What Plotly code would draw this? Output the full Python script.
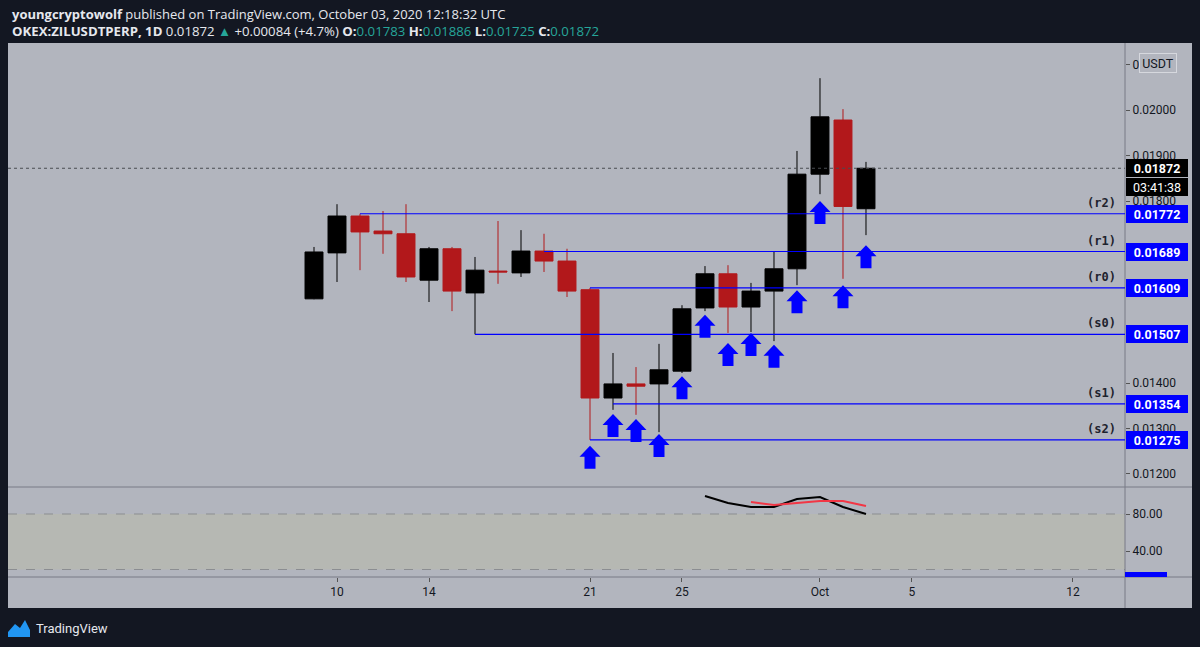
import plotly.graph_objects as go

# ---- data ----
dates = ["2020-09-09", "2020-09-10", "2020-09-11", "2020-09-12", "2020-09-13",
         "2020-09-14", "2020-09-15", "2020-09-16", "2020-09-17", "2020-09-18",
         "2020-09-19", "2020-09-20", "2020-09-21", "2020-09-22", "2020-09-23",
         "2020-09-24", "2020-09-25", "2020-09-26", "2020-09-27", "2020-09-28",
         "2020-09-29", "2020-09-30", "2020-10-01", "2020-10-02", "2020-10-03"]
opens = [0.01585, 0.01686, 0.01767, 0.01734, 0.01728, 0.01626, 0.01695, 0.01598, 0.01646,
         0.01642, 0.01690, 0.01668, 0.01605, 0.01367, 0.01398, 0.01398, 0.01426, 0.01565,
         0.01640, 0.01567, 0.01602, 0.01651, 0.01859, 0.01978, 0.01783]
highs = [0.01699, 0.01793, 0.01772, 0.01778, 0.01793, 0.01699, 0.01699, 0.01677, 0.01756,
         0.01736, 0.01728, 0.01695, 0.01609, 0.01466, 0.01435, 0.01486, 0.01571, 0.01657,
         0.01659, 0.01620, 0.01690, 0.01910, 0.02070, 0.02002, 0.01886]
lows = [0.01584, 0.01622, 0.01648, 0.01684, 0.01622, 0.01578, 0.01558, 0.01507, 0.01618,
        0.01633, 0.01644, 0.01589, 0.01275, 0.01341, 0.01330, 0.01292, 0.01422, 0.01558,
        0.01510, 0.01512, 0.01492, 0.01615, 0.01815, 0.01629, 0.01725]
closes = [0.01688, 0.01767, 0.01732, 0.01728, 0.01633, 0.01695, 0.01602, 0.01648, 0.01644,
          0.01690, 0.01668, 0.01602, 0.01367, 0.01398, 0.01393, 0.01429, 0.01563, 0.01640,
          0.01567, 0.01602, 0.01651, 0.01859, 0.01985, 0.01788, 0.01872]

last_price = 0.01872
countdown = "03:41:38"

level_names = ["r2", "r1", "r0", "s0", "s1", "s2"]
level_prices = [0.01772, 0.01689, 0.01609, 0.01507, 0.01354, 0.01275]
level_starts = ["2020-09-11", "2020-09-19", "2020-09-21", "2020-09-16", "2020-09-22", "2020-09-21"]

arrow_dates = ["2020-09-21", "2020-09-22", "2020-09-23", "2020-09-24", "2020-09-25",
               "2020-09-26", "2020-09-27", "2020-09-28", "2020-09-29", "2020-09-30",
               "2020-10-01", "2020-10-02", "2020-10-03"]
arrow_prices = [0.01262, 0.01332, 0.01321, 0.01288, 0.01415, 0.01550, 0.01488, 0.01510,
                0.01484, 0.01604, 0.01800, 0.01615, 0.01703]

k_dates = ["2020-09-26", "2020-09-27", "2020-09-28", "2020-09-29", "2020-09-30",
           "2020-10-01", "2020-10-02", "2020-10-03"]
k_values = [99.5, 91.9, 87.6, 87.6, 96.2, 98.4, 87.6, 80.0]
d_dates = ["2020-09-28", "2020-09-29", "2020-09-30", "2020-10-01", "2020-10-02", "2020-10-03"]
d_values = [93.0, 89.7, 91.9, 94.1, 94.1, 88.6]

tick_dates = ["2020-09-10", "2020-09-14", "2020-09-21", "2020-09-25", "2020-10-01",
              "2020-10-05", "2020-10-12"]
tick_text = ["10", "14", "21", "25", "Oct", "5", "12"]
price_ticks = [0.012, 0.013, 0.014, 0.018, 0.019, 0.020, 0.021]
osc_ticks = [40, 80]

# ---- look ----
W, H = 1200, 647
DARK = "#131722"
PANEL = "#b2b5be"
BLUE = "#0000ff"
SEP = "#787b86"
FONT = "Roboto"
X_RANGE = ["2020-08-26 16:42", "2020-10-14 06:16"]


def py(px):  # pixel row -> paper y
    return 1 - px / H


fig = go.Figure()

fig.add_trace(go.Candlestick(
    x=dates, open=opens, high=highs, low=lows, close=closes,
    increasing=dict(line=dict(color="#000000", width=1), fillcolor="#000000"),
    decreasing=dict(line=dict(color="#b2181b", width=1), fillcolor="#b2181b"),
    whiskerwidth=0, hoverinfo="skip", showlegend=False, xaxis="x", yaxis="y"))

fig.add_trace(go.Scatter(x=k_dates, y=k_values, mode="lines", xaxis="x", yaxis="y2",
                         line=dict(color="#000000", width=2), showlegend=False,
                         hoverinfo="skip"))
fig.add_trace(go.Scatter(x=d_dates, y=d_values, mode="lines", xaxis="x", yaxis="y2",
                         line=dict(color="#f23645", width=2), showlegend=False,
                         hoverinfo="skip"))

shapes = []
annotations = []

# panel background
shapes.append(dict(type="rect", xref="paper", yref="paper", x0=8 / W, x1=1192 / W,
                   y0=py(608), y1=py(43), fillcolor=PANEL, line=dict(width=0), layer="below"))
# oscillator band
shapes.append(dict(type="rect", xref="x domain", yref="y2", x0=0, x1=1, y0=20, y1=80,
                   fillcolor="#b6b8b3", line=dict(width=0), layer="below"))
for v in (20, 80):
    shapes.append(dict(type="line", xref="x domain", yref="y2", x0=0, x1=1, y0=v, y1=v,
                       line=dict(color="#8b8d91", width=1, dash="dash"), layer="below"))

# pane separators and axis border
for row in (487, 577):
    shapes.append(dict(type="line", xref="paper", yref="paper", x0=8 / W, x1=1192 / W,
                       y0=py(row), y1=py(row), line=dict(color=SEP, width=1)))
shapes.append(dict(type="line", xref="paper", yref="paper", x0=1125 / W, x1=1125 / W,
                   y0=py(608), y1=py(43), line=dict(color=SEP, width=1)))

# last price dotted line
shapes.append(dict(type="line", xref="x domain", yref="y", x0=0, x1=1, y0=last_price,
                   y1=last_price, line=dict(color="#4a4c52", width=1, dash="dot")))

# support / resistance lines
for name, p, start in zip(level_names, level_prices, level_starts):
    shapes.append(dict(type="line", xref="x", yref="y", x0=start, x1=X_RANGE[1], y0=p, y1=p,
                       line=dict(color=BLUE, width=1.2)))
    annotations.append(dict(xref="paper", yref="y", x=1118 / W, y=p, xanchor="right",
                            yanchor="bottom", yshift=2, showarrow=False,
                            text="<b>(%s)</b>" % name,
                            font=dict(family="DejaVu Sans Mono", size=12, color="#1e222d")))
    annotations.append(dict(xref="paper", yref="y", x=1126 / W, y=p, xanchor="left",
                            yanchor="middle", showarrow=False, text="<b>%.5f</b>" % p,
                            bgcolor=BLUE, borderwidth=0, borderpad=0, width=62, height=18,
                            font=dict(family=FONT, size=12.5, color="white")))

# blue arrows under the candles
arrow_path = "M0,0 L10.5,-11 L5.5,-11 L5.5,-23 L-5.5,-23 L-5.5,-11 L-10.5,-11 Z"
for d, p in zip(arrow_dates, arrow_prices):
    shapes.append(dict(type="path", xref="x", yref="y", xsizemode="pixel", ysizemode="pixel",
                       xanchor=d, yanchor=p, path=arrow_path, fillcolor=BLUE,
                       line=dict(width=0)))

# last price and countdown labels
annotations.append(dict(xref="paper", yref="y", x=1126 / W, y=last_price, xanchor="left",
                        yanchor="middle", showarrow=False, text="<b>%.5f</b>" % last_price,
                        bgcolor="#000000", borderwidth=0, borderpad=0, width=62, height=18,
                        font=dict(family=FONT, size=12.5, color="white")))
annotations.append(dict(xref="paper", yref="y", x=1126 / W, y=last_price, xanchor="left",
                        yanchor="middle", yshift=-19, showarrow=False, text=countdown,
                        bgcolor="#000000", borderwidth=0, borderpad=0, width=62, height=18,
                        font=dict(family=FONT, size=12.5, color="white")))

# currency badge
annotations.append(dict(xref="paper", yref="paper", x=1158 / W, y=py(63), xanchor="center",
                        yanchor="middle", showarrow=False,
                        text="USDT", bgcolor=PANEL, bordercolor="#d6d8de", borderwidth=1,
                        borderpad=0, width=36, height=18,
                        font=dict(family=FONT, size=12.5, color="#131722")))

# clipped oscillator value label
shapes.append(dict(type="rect", xref="paper", yref="paper", x0=1125 / W, x1=1167 / W,
                   y0=py(577), y1=py(572), fillcolor=BLUE, line=dict(width=0)))

# header
TEAL = "#26a69a"
annotations.append(dict(xref="paper", yref="paper", x=10 / W, y=py(14), xanchor="left",
                        yanchor="middle", showarrow=False,
                        text="<b>youngcryptowolf</b> published on TradingView.com, "
                             "October 03, 2020 12:18:32 UTC",
                        font=dict(family="Open Sans", size=13, color="#e6e8ee")))
annotations.append(dict(xref="paper", yref="paper", x=10 / W, y=py(31), xanchor="left",
                        yanchor="middle", showarrow=False,
                        text=("<b>OKEX:ZILUSDTPERP, 1D</b> %.5f "
                              "<span style='color:%s'>▲</span> +0.00084 (+4.7%%) "
                              "<b>O:</b><span style='color:%s'>%.5f</span> "
                              "<b>H:</b><span style='color:%s'>%.5f</span> "
                              "<b>L:</b><span style='color:%s'>%.5f</span> "
                              "<b>C:</b><span style='color:%s'>%.5f</span>")
                             % (closes[-1], TEAL, TEAL, opens[-1], TEAL, highs[-1],
                                TEAL, lows[-1], TEAL, closes[-1]),
                        font=dict(family="Open Sans", size=13.2, color="#e6e8ee")))

# footer logo
shapes.append(dict(type="path", xref="paper", yref="paper", xsizemode="pixel",
                   ysizemode="pixel", xanchor=0, yanchor=0,
                   path="M8,10 L30,10 L30,17 L25,27 L20,19 L15,23 L8,15 Z",
                   fillcolor="#2196f3", line=dict(width=0)))
annotations.append(dict(xref="paper", yref="paper", x=34 / W, y=py(628), xanchor="left",
                        yanchor="middle", showarrow=False, text="TradingView",
                        font=dict(family=FONT, size=13, color="#e6e8ee")))

axis_font = dict(family=FONT, size=12, color="#131722")
fig.update_layout(
    width=W, height=H, margin=dict(l=0, r=0, t=0, b=0),
    paper_bgcolor=DARK, plot_bgcolor=PANEL, showlegend=False,
    boxgap=0.22, boxgroupgap=0,
    xaxis=dict(domain=[8 / W, 1125 / W], anchor="y2", type="date", range=X_RANGE,
               tickvals=tick_dates, ticktext=tick_text, ticks="outside", ticklen=4,
               tickcolor="#555", showgrid=False, zeroline=False, showline=False,
               rangeslider=dict(visible=False), tickfont=axis_font),
    yaxis=dict(domain=[py(487), py(43)], anchor="x", side="right",
               range=[0.011714, 0.021473], tickvals=price_ticks, tickformat=".5f",
               ticks="outside", ticklen=4, tickcolor="#555", showgrid=False,
               zeroline=False, showline=False, tickfont=axis_font),
    yaxis2=dict(domain=[py(577), py(487)], anchor="x", side="right",
                range=[11.9, 109.2], tickvals=osc_ticks, tickformat=".2f",
                ticks="outside", ticklen=4, tickcolor="#555", showgrid=False,
                zeroline=False, showline=False, tickfont=axis_font),
    shapes=shapes, annotations=annotations,
)

# the page's default 8px body margin would shift the whole figure
fig.write_html("out.html", config={"displayModeBar": False},
               post_script="document.body.style.margin='0';"
                           "document.body.style.background='%s';" % DARK)
